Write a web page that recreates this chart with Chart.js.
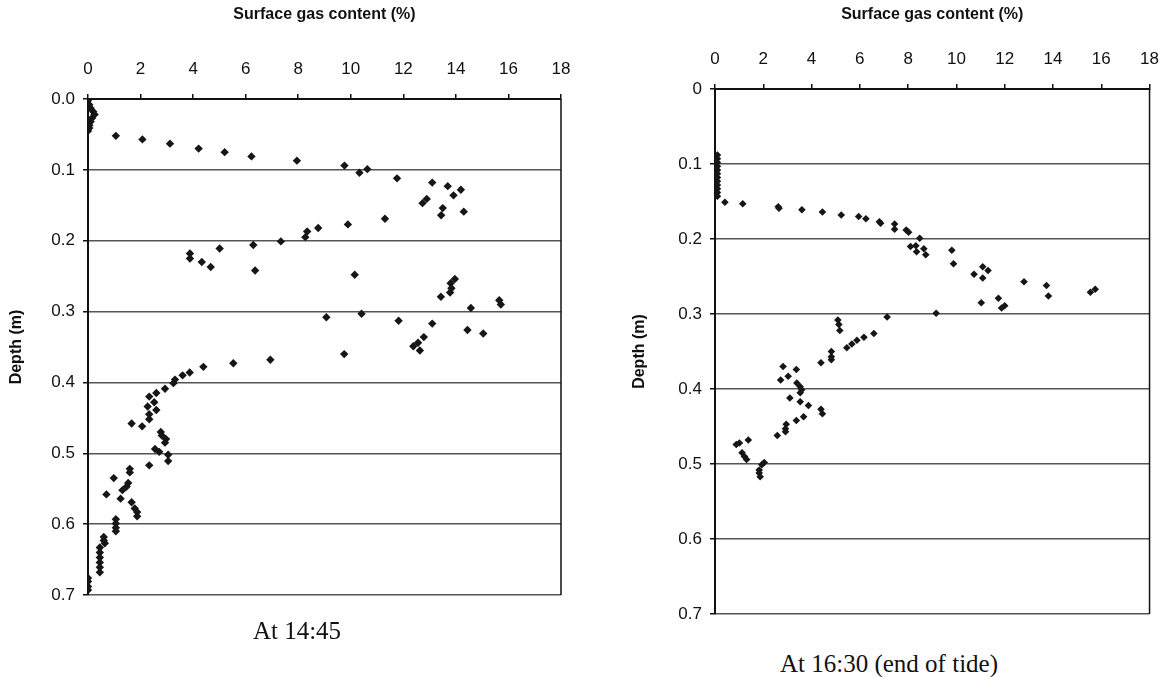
<html>
  <head>
    <title>Surface gas content vs depth</title>
    <script src="https://cdn.jsdelivr.net/npm/chart.js"></script>
    <style>
      body {
        margin: 0;
        background: #fff;
        width: 1173px;
        height: 677px;
        position: relative;
        overflow: hidden;
        font-family: Arial, "Liberation Sans", sans-serif;
      }
      canvas {
        position: absolute;
      }
      #leftChart { left: 0px; top: 0px; }
      #rightChart { left: 600px; top: 0px; }
      .caption {
        position: absolute;
        font-family: "Liberation Serif", "Times New Roman", serif;
        font-size: 25px;
        color: #111;
        transform: translateX(-50%);
        white-space: nowrap;
      }
    </style>
  </head>
  <body>
    <canvas id="leftChart" width="590" height="620"></canvas>
    <canvas id="rightChart" width="573" height="640"></canvas>
    <div class="caption" style="left: 297px; top: 617px;">At 14:45</div>
    <div class="caption" style="left: 889px; top: 650px;">At 16:30 (end of tide)</div>

    <script>
      // At 14:45 - gas content (%) and depth (m)
      const gas1445 = [
        0.0, 0.05, 0.1, 0.2, 0.25, 0.15, 0.1, 0.05, 0.05, 0.0,
        1.06, 2.07, 3.12, 4.21, 5.2, 6.22, 7.95, 9.76, 10.33, 10.63,
        11.76, 13.1, 13.69, 14.19, 13.91, 12.89, 12.73, 13.5, 14.3, 13.44,
        11.3, 9.89, 8.76, 8.34, 8.27, 7.34, 6.29, 5.01, 3.88, 3.88,
        4.33, 4.67, 6.36, 10.15, 13.96, 13.8, 13.83, 13.78, 13.43, 15.65,
        15.71, 14.57, 10.41, 9.07, 11.82, 13.1, 14.44, 15.04, 12.78, 12.56,
        12.38, 12.63, 9.75, 6.94, 5.53, 4.39, 3.87, 3.6, 3.31, 3.25,
        2.93, 2.6, 2.33, 2.52, 2.27, 2.6, 2.33, 2.33, 1.66, 2.06,
        2.77, 2.81, 2.97, 2.93, 2.55, 2.71, 3.05, 3.05, 2.33, 1.59,
        1.59, 0.98, 1.53, 1.47, 1.31, 0.7, 1.24, 1.66, 1.78, 1.87,
        1.87, 1.06, 1.06, 1.06, 1.06, 0.6, 0.6, 0.64, 0.45, 0.45,
        0.45, 0.45, 0.45, 0.45, 0.0, 0.0, 0.0, 0.0
      ];
      const depth1445 = [
        0.002, 0.008, 0.013, 0.018, 0.022, 0.027, 0.032, 0.037, 0.041, 0.045,
        0.052, 0.057, 0.063, 0.070, 0.075, 0.081, 0.087, 0.094, 0.104, 0.099,
        0.112, 0.118, 0.123, 0.128, 0.136, 0.141, 0.147, 0.154, 0.159, 0.164,
        0.169, 0.177, 0.182, 0.187, 0.195, 0.201, 0.206, 0.211, 0.218, 0.225,
        0.230, 0.237, 0.242, 0.248, 0.254, 0.260, 0.267, 0.273, 0.279, 0.284,
        0.290, 0.295, 0.303, 0.308, 0.313, 0.317, 0.326, 0.331, 0.336, 0.344,
        0.349, 0.355, 0.360, 0.368, 0.373, 0.378, 0.386, 0.390, 0.396, 0.401,
        0.409, 0.415, 0.420, 0.428, 0.434, 0.439, 0.445, 0.452, 0.458, 0.462,
        0.470, 0.475, 0.480, 0.485, 0.494, 0.498, 0.502, 0.511, 0.517, 0.522,
        0.527, 0.535, 0.542, 0.547, 0.552, 0.558, 0.564, 0.569, 0.578, 0.583,
        0.589, 0.593, 0.599, 0.605, 0.610, 0.618, 0.623, 0.627, 0.633, 0.640,
        0.647, 0.654, 0.661, 0.668, 0.676, 0.681, 0.688, 0.693
      ];

      // At 16:30 (end of tide)
      const gas1630 = [
        0.1, 0.1, 0.1, 0.1, 0.1, 0.1, 0.1, 0.1, 0.1, 0.1, 0.1, 0.1,
        0.41, 1.15, 2.62, 2.65, 3.6, 4.45, 5.23, 5.95, 6.25, 6.81,
        6.86, 7.44, 7.44, 7.92, 8.02, 8.48, 8.1, 8.32, 8.35, 8.65,
        8.73, 9.81, 9.88, 10.73, 11.09, 11.31, 11.09, 12.8, 13.73, 13.81,
        15.55, 15.75, 11.03, 11.74, 11.87, 12.0, 9.16, 7.13, 6.58, 6.17,
        5.88, 5.67, 5.46, 5.09, 5.13, 5.17, 4.82, 4.82, 4.82, 4.39,
        2.82, 3.37, 3.03, 2.72, 3.39, 3.53, 3.59, 3.53, 3.1, 3.53,
        3.87, 4.39, 4.45, 3.67, 3.37, 2.95, 2.92, 2.92, 2.58, 1.38,
        0.88, 1.01, 1.12, 1.22, 1.31, 2.04, 1.94, 1.83, 1.83, 1.87
      ];
      const depth1630 = [
        0.088, 0.093, 0.098, 0.103, 0.108, 0.113, 0.118, 0.123, 0.128, 0.133, 0.138, 0.143,
        0.151, 0.153, 0.157, 0.159, 0.161, 0.164, 0.168, 0.170, 0.173, 0.177,
        0.179, 0.180, 0.187, 0.188, 0.191, 0.199, 0.210, 0.209, 0.217, 0.213,
        0.221, 0.215, 0.233, 0.247, 0.237, 0.242, 0.252, 0.257, 0.262, 0.276,
        0.271, 0.267, 0.285, 0.279, 0.292, 0.289, 0.299, 0.304, 0.326, 0.331,
        0.335, 0.340, 0.345, 0.308, 0.314, 0.322, 0.350, 0.357, 0.361, 0.365,
        0.370, 0.374, 0.383, 0.388, 0.392, 0.397, 0.401, 0.405, 0.412, 0.417,
        0.422, 0.427, 0.433, 0.437, 0.442, 0.447, 0.453, 0.457, 0.462, 0.468,
        0.474, 0.472, 0.485, 0.490, 0.494, 0.498, 0.501, 0.508, 0.512, 0.517
      ];

      const xTicks = [0, 2, 4, 6, 8, 10, 12, 14, 16, 18];
      const yTicks = [0, 0.1, 0.2, 0.3, 0.4, 0.5, 0.6, 0.7];

      const titleFont = { family: 'Arial', size: 16, weight: 'bold' };
      const tickFont = { family: 'Arial', size: 17 };

      // right-hand frame line of the plot area
      const frameRight = {
        id: 'frameRight',
        afterDraw(chart) {
          const a = chart.chartArea;
          const c = chart.ctx;
          c.save();
          c.strokeStyle = '#111';
          c.lineWidth = 1.5;
          c.beginPath();
          c.moveTo(a.right, a.top);
          c.lineTo(a.right, a.bottom);
          c.stroke();
          c.restore();
        }
      };

      function makeChart(id, gas, depth, opts) {
        const points = gas.map((g, i) => ({ x: g, y: depth[i] }));
        return new Chart(document.getElementById(id), {
          type: 'scatter',
          data: {
            datasets: [{
              data: points,
              pointStyle: 'rectRot',
              pointRadius: opts.radius,
              backgroundColor: '#161616',
              borderColor: '#161616',
              borderWidth: 0
            }]
          },
          options: {
            responsive: false,
            animation: false,
            layout: { padding: opts.padding },
            plugins: { legend: { display: false }, tooltip: { enabled: false } },
            scales: {
              x: {
                type: 'linear',
                position: 'top',
                min: 0,
                max: 18,
                afterBuildTicks: (s) => { s.ticks = xTicks.map(v => ({ value: v })); },
                afterFit: (s) => { s.height = opts.xHeight; },
                ticks: { color: '#111', font: tickFont, padding: 14 },
                grid: { drawOnChartArea: false, drawTicks: true, tickLength: 5, color: '#111', lineWidth: 1.5 },
                border: { color: '#111', width: 2 },
                title: {
                  display: true,
                  text: 'Surface gas content (%)',
                  color: '#111',
                  font: titleFont,
                  padding: { top: 5, bottom: 0 }
                }
              },
              y: {
                type: 'linear',
                reverse: true,
                min: 0,
                max: 0.7,
                afterBuildTicks: (s) => { s.ticks = yTicks.map(v => ({ value: v })); },
                afterFit: (s) => { s.width = opts.yWidth; },
                ticks: {
                  color: '#111',
                  font: tickFont,
                  padding: 8,
                  callback: opts.yLabel
                },
                grid: { color: '#555', lineWidth: 1.5, tickLength: 5, tickColor: '#111' },
                border: { color: '#111', width: 2 },
                title: {
                  display: true,
                  text: 'Depth (m)',
                  color: '#111',
                  font: titleFont,
                  padding: { top: opts.yTitlePad, bottom: 0 }
                }
              }
            }
          },
          plugins: [frameRight]
        });
      }

      makeChart('leftChart', gas1445, depth1445, {
        radius: 4.2,
        padding: { left: 0, top: 0, right: 29, bottom: 25 },
        xHeight: 99,
        yWidth: 88,
        yTitlePad: 7,
        yLabel: (v) => v.toFixed(1)
      });

      makeChart('rightChart', gas1630, depth1630, {
        radius: 3.8,
        padding: { left: 0, top: 0, right: 16, bottom: 26 },
        xHeight: 89,
        yWidth: 115,
        yTitlePad: 30,
        yLabel: (v) => (v === 0 ? '0' : v.toFixed(1))
      });
    </script>
  </body>
</html>
